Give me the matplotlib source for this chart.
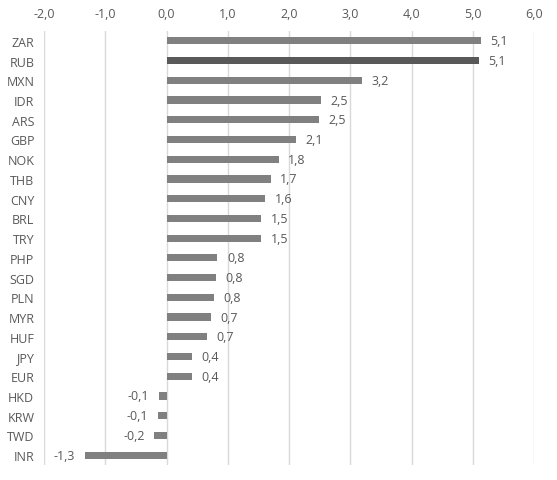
import numpy as np
from matplotlib import pyplot as plt

# currencies, top to bottom
currencies = ['ZAR', 'RUB', 'MXN', 'IDR', 'ARS', 'GBP', 'NOK', 'THB', 'CNY', 'BRL', 'TRY',
              'PHP', 'SGD', 'PLN', 'MYR', 'HUF', 'JPY', 'EUR', 'HKD', 'KRW', 'TWD', 'INR']
values = [5.13, 5.10, 3.19, 2.52, 2.49, 2.11, 1.83, 1.70, 1.61, 1.54, 1.54,
          0.83, 0.81, 0.77, 0.72, 0.66, 0.41, 0.41, -0.13, -0.14, -0.20, -1.33]
x_ticks = [-2, -1, 0, 1, 2, 3, 4, 5, 6]

plt.rcParams['font.family'] = ['Open Sans', 'DejaVu Sans']
txt = '#595959'

fig = plt.figure(figsize=(5.57, 4.81), dpi=100)
ax = fig.add_axes([44 / 557, 1 - 466 / 481, 490 / 557, 434 / 481])

y = np.arange(len(currencies))
colors = ['#595959' if c == 'RUB' else '#808080' for c in currencies]
ax.barh(y, values, height=0.36, color=colors, zorder=3)

for yi, v in zip(y, values):
    lab = f'{v:.1f}'.replace('.', ',')
    if v >= 0:
        ax.annotate(lab, (v, yi), xytext=(7, 0), textcoords='offset points',
                    va='center', ha='left', fontsize=9, color=txt)
    else:
        ax.annotate(lab, (v, yi), xytext=(-7, 0), textcoords='offset points',
                    va='center', ha='right', fontsize=9, color=txt)

ax.set_xlim(-2, 6)
ax.set_ylim(len(currencies) - 0.5, -0.5)
ax.set_xticks(x_ticks)
ax.set_xticklabels([f'{t:.1f}'.replace('.', ',') for t in x_ticks])
ax.set_yticks(y)
ax.set_yticklabels(currencies)
ax.xaxis.tick_top()
ax.tick_params(axis='both', length=0, labelsize=9, colors=txt)
ax.tick_params(axis='x', pad=8)
ax.tick_params(axis='y', pad=7)
ax.grid(axis='x', color='#d9d9d9', linewidth=1, zorder=0)
for s in ax.spines.values():
    s.set_visible(False)

fig.savefig('out.png', dpi=100)
